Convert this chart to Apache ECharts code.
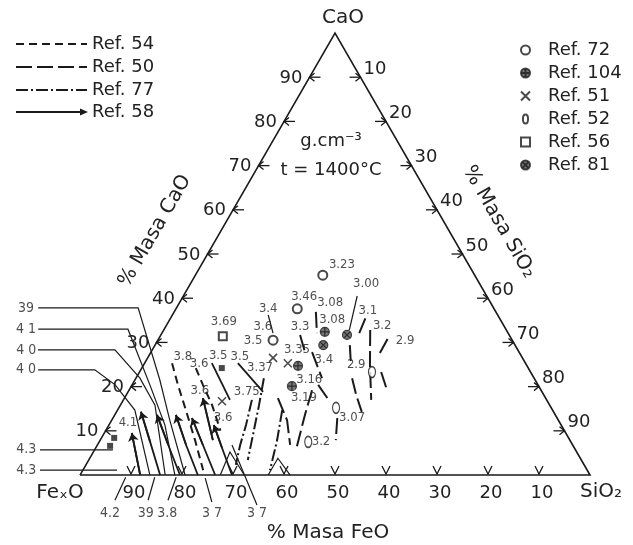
<!DOCTYPE html>
<html><head><meta charset="utf-8">
<script src="https://cdn.jsdelivr.net/npm/echarts@6/dist/echarts.min.js"></script>
<style>html,body{margin:0;padding:0;background:#fff;}#chart{width:633px;height:545px;}</style>
</head><body><div id="chart"></div>
<script>
// All compositions are ternary mass percentages: [CaO %, SiO2 %]; FeO % = 100 - CaO - SiO2
const tickValues = [10, 20, 30, 40, 50, 60, 70, 80, 90];
const triangle = [[0, 0], [0, 100], [100, 0], [0, 0]];

// point data (density, g/cm3) by reference
const ref72 = [[45.2, 25.0], [37.6, 23.8], [30.5, 22.6]];
const ref104 = [[32.4, 31.8], [24.7, 30.4], [20.1, 31.5]];
const ref51 = [[26.5, 24.6], [25.3, 28.1], [16.7, 19.5]];
const ref52 = [[15.2, 42.6], [23.3, 45.6], [7.5, 41.0]];
const ref56 = [[31.4, 12.3]];
const ref81 = [[31.7, 36.5], [29.4, 33.0]];
const ref58Points = [[24.2, 15.7], [8.4, 2.5], [6.6, 2.6]];

// iso-density lines by reference
const ref58Lines = [
  [[0, 11.8], [9.5, 5.4]],
  [[0, 15.7], [7.5, 10.0], [14.3, 4.8]],
  [[0, 19.6], [6.8, 13.9], [13.6, 8.3]],
  [[0, 23.1], [6.8, 17.4], [13.6, 12.0]],
  [[0, 26.5], [6.8, 20.7], [12.9, 15.5]],
  [[0, 29.8], [6.1, 24.8], [11.3, 20.6]],
  [[7.9, 22.1], [17.4, 15.4]],
  [[25.3, 13.2], [17.0, 20.9]],
  [[25.3, 18.3], [18.8, 26.5]]
];
const ref54Lines = [
  [[25.3, 5.4], [20.4, 9.0], [14.7, 13.4], [7.9, 18.6], [1.1, 23.6]],
  [[24.2, 10.6], [20.4, 13.9], [15.8, 18.0], [10.2, 22.4]]
];
const ref77Lines = [
  [[17.0, 25.2], [11.3, 26.9], [6.8, 28.0], [2.3, 29.4]],
  [[21.9, 25.1], [15.8, 27.2], [9.0, 29.4], [3.4, 31.2]],
  [[14.7, 32.3], [7.9, 34.7], [1.1, 36.7]]
];
const ref50Lines = [
  [[17.4, 30.1], [12.4, 34.4], [6.8, 37.8]],
  [[19.2, 35.9], [13.6, 37.3], [5.7, 39.5]],
  [[20.4, 36.5], [16.5, 40.8]],
  [[12.9, 44.0], [7.9, 46.2]],
  [[27.8, 31.6], [21.9, 36.5]],
  [[31.7, 27.3], [27.8, 30.2]],
  [[36.9, 27.8], [32.1, 30.4]],
  [[29.4, 38.2], [25.6, 40.3]],
  [[21.9, 42.4], [18.1, 45.1], [14.3, 48.1]],
  [[32.8, 40.5], [24.9, 44.4], [17.0, 48.6]],
  [[32.1, 38.7], [36.4, 38.1]],
  [[27.6, 45.0], [31.4, 44.9]],
  [[23.3, 47.4], [19.2, 50.6]]
];
const leaderLines = [
  [[37.8, -27.1], [37.8, -7.5], [21.5, 4.9], [12.4, 11.4], [0, 20.6]],
  [[33.0, -24.7], [33.0, -7.1], [20.4, 3.5], [11.3, 11.0], [0, 18.6]],
  [[28.3, -22.4], [28.3, -7.3], [21.9, 0.8], [15.8, 6.8], [0, 16.7]],
  [[23.8, -20.1], [23.8, -9.0], [20.4, -3.3], [14.7, 3.4], [0, 13.7]],
  [[5.7, -10.7], [5.7, 3.6]],
  [[1.1, -8.4], [1.1, 6.7]],
  [[-5.7, 9.7], [-0.5, 9.2]],
  [[-5.7, 16.2], [-0.5, 14.9]],
  [[-5.7, 20.1], [-0.5, 19.1]],
  [[-6.1, 28.9], [-0.7, 24.9]],
  [[-6.8, 38.1], [6.8, 26.4]],
  [[40.5, 34.1], [32.8, 36.4]],
  [[36.2, 18.8], [32.1, 21.8]],
  [[0, 27.5], [5.2, 26.8], [0, 32.2]],
  [[0, 36.9], [3.8, 36.9], [0, 41.2]]
];

// density value labels [CaO, SiO2, text]
const valueLabels = [
  [47.5, 27.6, '3.23'], [40.3, 23.8, '3.46'], [38.9, 29.6, '3.08'], [35.1, 31.9, '3.08'], [43.2, 34.5, '3.00'],
  [37.3, 37.8, '3.1'], [33.7, 42.4, '3.2'], [30.3, 48.6, '2.9'], [24.9, 41.7, '2.9'], [12.9, 46.9, '3.07'],
  [7.5, 43.5, '3.2'], [26.0, 34.8, '3.4'], [33.5, 26.4, '3.3'], [37.6, 18.1, '3.4'], [33.5, 19.1, '3.6'],
  [30.3, 18.8, '3.5'], [28.3, 28.4, '3.35'], [24.4, 23.1, '3.37'], [21.5, 34.2, '3.16'], [17.4, 35.2, '3.19'],
  [34.6, 10.9, '3.69'], [26.7, 18.0, '3.5'], [27.0, 13.6, '3.5'], [25.3, 10.7, '3.6'], [26.7, 6.8, '3.8'],
  [19.2, 13.9, '3.6'], [12.9, 21.6, '3.6'], [18.8, 23.3, '3.75'], [11.8, 3.5, '4.1']
];
const leaderLabels = [
  [37.8, -29.5, '39'], [33.0, -27.1, '4 1'], [28.3, -24.7, '4 0'], [23.8, -22.5, '4 0'],
  [5.7, -13.4, '4.3'], [1.1, -11.1, '4.3'],
  [-8.6, 10.2, '4.2'], [-8.6, 17.2, '39'], [-8.6, 21.4, '3.8'], [-8.6, 30.2, '3 7'], [-8.6, 39.0, '3 7']
];

const H = Math.sqrt(3) / 2;
const P = d => [d[1] + d[0] / 2, d[0] * H];
const FONT = '"DejaVu Sans", sans-serif';
const COND = '"DejaVu Sans Condensed", "DejaVu Sans", sans-serif';
const INK = '#1a1a1a';
const DASH54 = [8, 5], DASH50 = [16, 5], DASH77 = [12, 3, 2, 3];

function linesSeries(name, polys, type, width) {
  return {
    type: 'lines', name: name, coordinateSystem: 'cartesian2d', polyline: true, silent: true,
    lineStyle: { color: INK, width: width, type: type, opacity: 1 },
    data: polys.map(p => ({ coords: p.map(P) }))
  };
}
function scatter(name, pts, symbol, size, style) {
  return { type: 'scatter', name: name, data: pts.map(P), symbol: symbol, symbolSize: size, itemStyle: style, silent: true, z: 5 };
}
function textSeries(items, fontSize) {
  return {
    type: 'scatter', silent: true, symbolSize: 1, itemStyle: { color: 'rgba(0,0,0,0)' }, z: 6,
    data: items.map(d => ({ value: P(d), name: d[2] })),
    label: { show: true, position: 'inside', formatter: '{b}', fontFamily: COND, fontSize: fontSize, color: '#222' }
  };
}
function txt(x, y, text, size, opts) {
  opts = opts || {};
  return {
    type: 'text', x: x, y: y, rotation: opts.rotation || 0, z: 10,
    style: {
      text: text, font: size + 'px ' + FONT, fill: '#222',
      align: opts.align || 'center', verticalAlign: 'middle',
      textAlign: opts.align || 'center', textVerticalAlign: 'middle'
    }
  };
}

const tickData = [];
tickValues.forEach(t => { tickData.push([0, t], [1, t], [2, t]); });

function renderTick(params, api) {
  const e = api.value(0), t = api.value(1);
  const comp = e === 0 ? [t, 0] : (e === 1 ? [100 - t, t] : [0, 100 - t]);
  const c = api.coord(P(comp));
  const x = c[0], y = c[1];
  const st = { stroke: INK, lineWidth: 1.3, fill: null };
  const tf = { fill: '#222', font: '18px ' + FONT, text: String(t) };
  let children;
  if (e === 0) {
    children = [
      { type: 'polyline', shape: { points: [[x, y], [x + 11, y]] }, style: st },
      { type: 'polyline', shape: { points: [[x + 5, y - 4], [x, y], [x + 5, y + 4]] }, style: st },
      { type: 'text', x: x - 7, y: y + 1, style: Object.assign({ align: 'right', verticalAlign: 'middle', textAlign: 'right', textVerticalAlign: 'middle' }, tf) }
    ];
  } else if (e === 1) {
    children = [
      { type: 'polyline', shape: { points: [[x - 11, y], [x, y]] }, style: st },
      { type: 'polyline', shape: { points: [[x - 5, y - 4], [x, y], [x - 5, y + 4]] }, style: st },
      { type: 'text', x: x + 3, y: y - 8, style: Object.assign({ align: 'left', verticalAlign: 'middle', textAlign: 'left', textVerticalAlign: 'middle' }, tf) }
    ];
  } else {
    children = [
      { type: 'polyline', shape: { points: [[x - 4, y - 9], [x, y - 1], [x + 4, y - 9]] }, style: st },
      { type: 'text', x: x + 3, y: y + 18, style: Object.assign({ align: 'center', verticalAlign: 'middle', textAlign: 'center', textVerticalAlign: 'middle' }, tf) }
    ];
  }
  return { type: 'group', children: children };
}

const circlePath = 'M10,0A10,10 0 1,1 10,20A10,10 0 1,1 10,0Z';

const option = {
  animation: false,
  backgroundColor: '#fff',
  grid: { left: 0, right: 0, top: 0, bottom: 0 },
  xAxis: { type: 'value', min: -15.69, max: 108.43, show: false },
  yAxis: { type: 'value', min: -13.71, max: 93.07, show: false },
  legend: {
    data: ['Ref. 72', 'Ref. 104', 'Ref. 51', 'Ref. 52', 'Ref. 56', 'Ref. 81'],
    orient: 'vertical', left: 515, top: 36, itemWidth: 9, itemHeight: 9, itemGap: 5,
    selectedMode: false,
    textStyle: { fontFamily: FONT, fontSize: 18, color: '#222', lineHeight: 18, padding: [0, 0, 0, 13] }
  },
  graphic: [
    { type: 'line', shape: { x1: 16, y1: 44, x2: 87, y2: 44 }, style: { stroke: INK, lineWidth: 1.8, lineDash: DASH54 } },
    { type: 'line', shape: { x1: 16, y1: 67, x2: 87, y2: 67 }, style: { stroke: INK, lineWidth: 1.8, lineDash: DASH50 } },
    { type: 'line', shape: { x1: 16, y1: 90, x2: 87, y2: 90 }, style: { stroke: INK, lineWidth: 1.8, lineDash: DASH77 } },
    { type: 'line', shape: { x1: 16, y1: 112, x2: 82, y2: 112 }, style: { stroke: INK, lineWidth: 1.8 } },
    { type: 'polygon', shape: { points: [[80, 108.5], [88, 112], [80, 115.5]] }, style: { fill: INK } },
    txt(92, 44, 'Ref. 54', 18, { align: 'left' }),
    txt(92, 67, 'Ref. 50', 18, { align: 'left' }),
    txt(92, 90, 'Ref. 77', 18, { align: 'left' }),
    txt(92, 112, 'Ref. 58', 18, { align: 'left' }),
    txt(343, 18, 'CaO', 20),
    txt(60, 493, 'FeₓO', 20),
    txt(601, 492, 'SiO₂', 20),
    txt(331, 141, 'g.cm⁻³', 18),
    txt(331, 170, 't = 1400°C', 18),
    txt(155, 231, '% Masa CaO', 20, { rotation: Math.PI / 3 }),
    txt(499, 222, '% Masa SiO₂', 20, { rotation: -Math.PI / 3 }),
    txt(328, 533, '% Masa FeO', 20)
  ],
  series: [
    linesSeries('frame', [triangle], 'solid', 1.6),
    { type: 'custom', name: 'ticks', renderItem: renderTick, data: tickData, silent: true, z: 4 },
    linesSeries('leaders', leaderLines, 'solid', 1.2),
    linesSeries('Ref. 54', ref54Lines, DASH54, 2),
    linesSeries('Ref. 50', ref50Lines, DASH50, 2),
    linesSeries('Ref. 77', ref77Lines, DASH77, 2),
    linesSeries('Ref. 58', ref58Lines, 'solid', 1.8),
    {
      type: 'lines', name: 'Ref. 58 arrows', coordinateSystem: 'cartesian2d', silent: true,
      symbol: ['none', 'arrow'], symbolSize: 8,
      lineStyle: { color: INK, width: 1.8, opacity: 1 },
      data: ref58Lines.slice(0, 7).map(p => ({ coords: [P(p[p.length - 2]), P(p[p.length - 1])] }))
    },
    scatter('Ref. 58 points', ref58Points, 'rect', 6, { color: INK }),
    scatter('Ref. 72', ref72, 'emptyCircle', 9, { color: INK, borderWidth: 1.4 }),
    scatter('Ref. 104', ref104, 'path://' + circlePath + ' M10,0L10,20 M0,10L20,10', 9, { color: '#555', borderColor: INK, borderWidth: 1.2 }),
    scatter('Ref. 51', ref51, 'path://M0,0L10,10M10,0L0,10', 8, { color: INK, borderColor: INK, borderWidth: 1.5 }),
    scatter('Ref. 52', ref52, 'path://M5,0A4,7 0 1,1 5,14A4,7 0 1,1 5,0Z', [7, 11], { color: '#fff', borderColor: INK, borderWidth: 1.4 }),
    scatter('Ref. 56', ref56, 'emptyRect', 8, { color: INK, borderWidth: 1.4 }),
    scatter('Ref. 81', ref81, 'path://' + circlePath + ' M3,3L17,17 M17,3L3,17', 9, { color: '#555', borderColor: INK, borderWidth: 1.2 }),
    textSeries(valueLabels, 13),
    textSeries(leaderLabels, 14)
  ]
};

const chart = echarts.init(document.getElementById('chart'), null, { renderer: 'canvas' });
chart.setOption(option);
</script>
</body></html>
